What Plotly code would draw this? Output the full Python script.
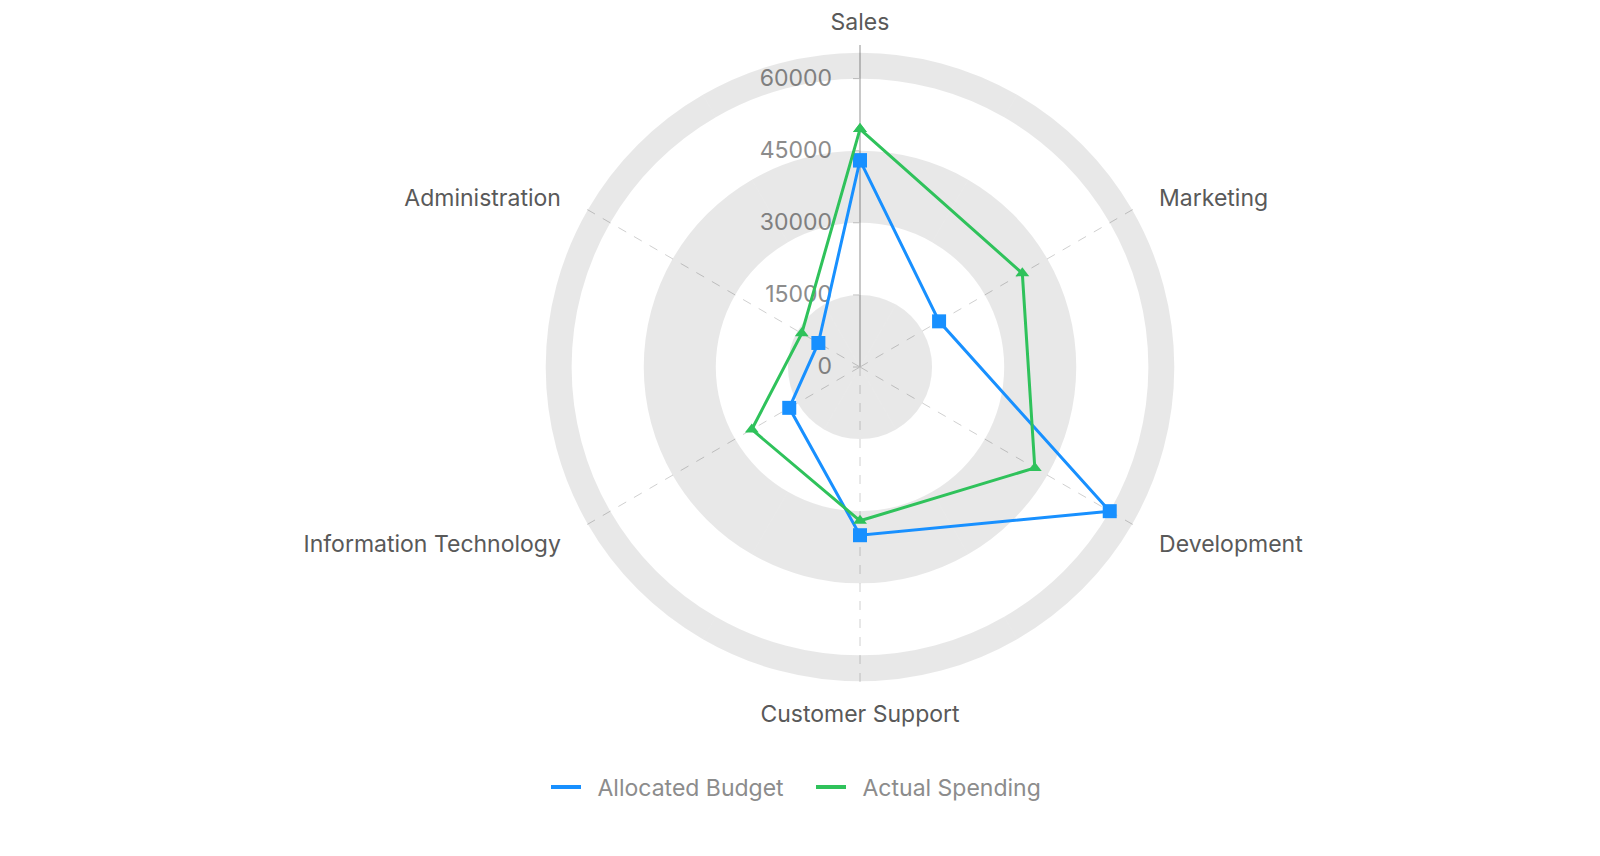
import plotly.graph_objects as go

categories = ["Sales", "Marketing", "Development", "Customer Support",
              "Information Technology", "Administration"]
allocated_budget = [43000, 19000, 60000, 35000, 17000, 10000]
actual_spending = [49500, 39000, 42000, 32000, 26000, 14000]
radial_ticks = [0, 15000, 30000, 45000, 60000]
band_edges = [0, 15000, 30000, 45000, 60000, 65400]
axis_max = 67000
series_names = ["Allocated Budget", "Actual Spending"]

BLUE = "#1890ff"
GREEN = "#2fc25b"
FONT = "Inter"
FS = 23
SP = "\u2002"  # en space used as label padding

fig = go.Figure()

# alternating split-area bands (gray, white, gray, white, gray)
for i in range(0, len(band_edges) - 1, 2):
    lo, hi = band_edges[i], band_edges[i + 1]
    fig.add_trace(go.Barpolar(
        theta=categories, r=[hi - lo] * len(categories), base=[lo] * len(categories),
        width=[1] * len(categories),
        marker=dict(color="rgba(0,0,0,0.09)", line=dict(width=0)),
        hoverinfo="skip", showlegend=False,
    ))

def closed(v):
    return list(v) + [v[0]]

fig.add_trace(go.Scatterpolar(
    r=closed(allocated_budget), theta=closed(categories), mode="lines+markers",
    name=series_names[0], showlegend=False,
    line=dict(color=BLUE, width=3),
    marker=dict(symbol="square", size=14, color=BLUE),
))
fig.add_trace(go.Scatterpolar(
    r=closed(actual_spending), theta=closed(categories), mode="lines+markers",
    name=series_names[1], showlegend=False,
    line=dict(color=GREEN, width=3),
    marker=dict(symbol="triangle-up", size=12, color=GREEN),
))
# legend entries (line only)
for name, col in zip(series_names, [BLUE, GREEN]):
    fig.add_trace(go.Scatterpolar(r=[None], theta=[categories[0]], mode="lines",
                                  name=SP + name, line=dict(color=col, width=4)))

W, H = 1600, 856
cx, cy, R = 860, 367, 322
fig.update_layout(
    width=W, height=H,
    margin=dict(l=0, r=0, t=0, b=0),
    paper_bgcolor="white",
    font=dict(family=FONT, size=FS, color="#595959"),
    polar=dict(
        domain=dict(x=[(cx - R) / W, (cx + R) / W],
                    y=[(H - cy - R) / H, (H - cy + R) / H]),
        bgcolor="rgba(0,0,0,0)",
        bargap=0,
        barmode="overlay",
        angularaxis=dict(
            type="category", categoryarray=categories,
            tickvals=categories, ticktext=[SP + c + SP for c in categories],
            rotation=90, direction="clockwise",
            showline=False,
            showgrid=True, gridcolor="#d0d0d0", griddash="dash", gridwidth=1,
            ticks="outside", ticklen=5, tickcolor="rgba(0,0,0,0)",
            tickfont=dict(family=FONT, size=FS, color="#595959"),
            layer="below traces",
        ),
        radialaxis=dict(
            range=[0, axis_max], angle=90, side="counterclockwise",
            tickvals=radial_ticks, ticktext=[f"{v}\u00a0\u00a0" for v in radial_ticks],
            tickangle=90,
            showgrid=False,
            showline=True, linecolor="#c8c8c8", linewidth=2,
            ticks="outside", ticklen=6, tickcolor="#c8c8c8",
            tickfont=dict(family=FONT, size=FS, color="#8c8c8c"),
            layer="below traces",
        ),
    ),
    legend=dict(
        orientation="h", x=546 / W, xanchor="left", y=(H - 787) / H, yanchor="middle",
        font=dict(family=FONT, size=FS, color="#8c8c8c"),
        itemwidth=30, entrywidth=220, entrywidthmode="pixels",
    ),
)

fig.write_html("out.html")
